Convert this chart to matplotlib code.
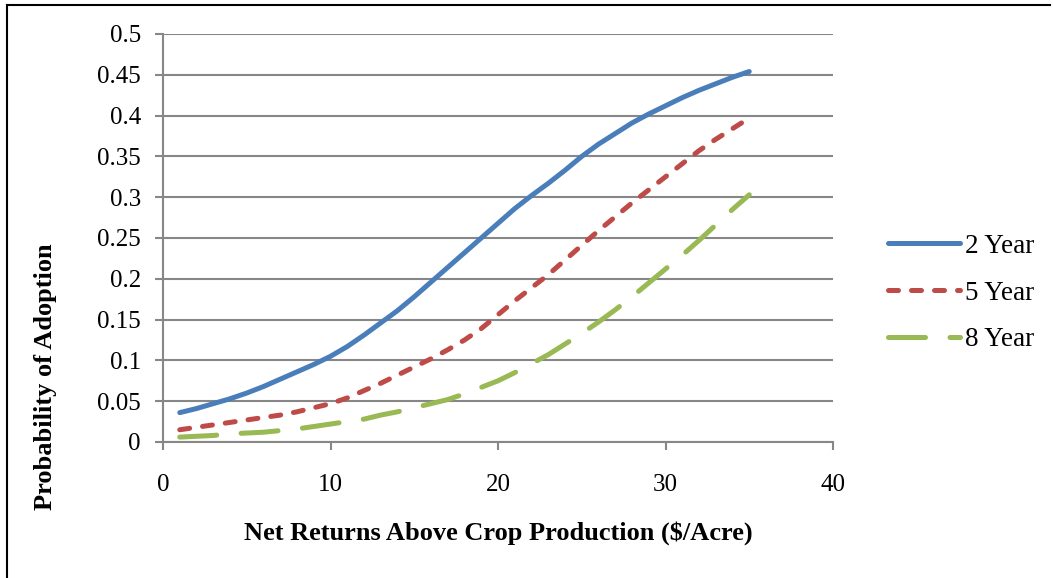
import matplotlib
matplotlib.use("Agg")
import matplotlib.pyplot as plt
from matplotlib.lines import Line2D

# Net returns ($/acre) at which adoption probability is evaluated
returns = list(range(1, 36))

# Probability of adoption by contract length
prob_2yr = [0.036, 0.041, 0.047, 0.053, 0.060, 0.068, 0.077, 0.086, 0.095,
            0.105, 0.117, 0.131, 0.146, 0.161, 0.178, 0.196, 0.214, 0.232,
            0.250, 0.268, 0.286, 0.302, 0.317, 0.333, 0.350, 0.365, 0.378,
            0.391, 0.402, 0.412, 0.422, 0.431, 0.439, 0.447, 0.454]
prob_5yr = [0.015, 0.018, 0.021, 0.024, 0.027, 0.030, 0.033, 0.037, 0.042,
            0.047, 0.054, 0.063, 0.072, 0.082, 0.092, 0.102, 0.113, 0.125,
            0.139, 0.156, 0.173, 0.189, 0.205, 0.223, 0.241, 0.259, 0.276,
            0.293, 0.309, 0.325, 0.341, 0.357, 0.371, 0.384, 0.397]
prob_8yr = [0.006, 0.007, 0.008, 0.010, 0.011, 0.012, 0.014, 0.016, 0.019,
            0.022, 0.025, 0.028, 0.033, 0.037, 0.042, 0.047, 0.052, 0.059,
            0.067, 0.075, 0.085, 0.096, 0.107, 0.120, 0.133, 0.147, 0.162,
            0.178, 0.195, 0.212, 0.229, 0.247, 0.266, 0.285, 0.303]

series_labels = ["2 Year", "5 Year", "8 Year"]
x_ticks = [0, 10, 20, 30, 40]
y_ticks = [0, 0.05, 0.1, 0.15, 0.2, 0.25, 0.3, 0.35, 0.4, 0.45, 0.5]
y_tick_labels = ["0", "0.05", "0.1", "0.15", "0.2", "0.25", "0.3", "0.35",
                 "0.4", "0.45", "0.5"]

plt.rcParams["font.family"] = ["Liberation Serif", "DejaVu Serif"]

W, H = 1053, 578
fig = plt.figure(figsize=(W / 100, H / 100), dpi=100)
ax = fig.add_axes([163 / W, (H - 442) / H, (833 - 163) / W, (442 - 34) / H])

grid_col = "#878787"
lw = 3.6
ax.plot(returns, prob_2yr, color="#4a7ebb", lw=lw, solid_capstyle="round",
        solid_joinstyle="round", label=series_labels[0])
ax.plot(returns, prob_5yr, color="#be4b48", lw=lw, dash_capstyle="round",
        dashes=(2.0, 2.6), label=series_labels[1])
ax.plot(returns, prob_8yr, color="#98b954", lw=lw, dash_capstyle="round",
        dashes=(7.4, 4.9), label=series_labels[2])

ax.set_xlim(0, 40)
ax.set_ylim(0, 0.5)
ax.set_xticks(x_ticks)
ax.set_yticks(y_ticks)
ax.set_yticklabels(y_tick_labels)
ax.yaxis.grid(True, color=grid_col, lw=1.5)
ax.set_axisbelow(True)
for s in ("top", "right"):
    ax.spines[s].set_visible(False)
for s in ("left", "bottom"):
    ax.spines[s].set_color(grid_col)
    ax.spines[s].set_linewidth(1.5)
ax.tick_params(axis="both", direction="out", color=grid_col, width=1.5,
               length=6, labelsize=18)
ax.tick_params(axis="y", pad=10)
ax.tick_params(axis="x", pad=17)

# Axis titles
fig.text(498 / W, (H - 533) / H, "Net Returns Above Crop Production ($/Acre)",
         ha="center", va="center", fontsize=19, fontweight="bold")
fig.text(46 / W, (H - 377) / H, "Probability of Adoption", rotation=90,
         ha="center", va="center", fontsize=19, fontweight="bold")

ax.legend(loc="center left", bbox_to_anchor=(888 / W, (H - 293) / H),
          bbox_transform=fig.transFigure, frameon=False, fontsize=19.5,
          handlelength=2.65, handletextpad=0.19, labelspacing=0.8,
          borderaxespad=0, borderpad=0)

# Frame lines along the top and left edges
fig.add_artist(Line2D([7 / W, 1050 / W], [(H - 5) / H, (H - 5) / H],
                      transform=fig.transFigure, color="black", lw=1.5))
fig.add_artist(Line2D([7 / W, 7 / W], [(H - 5) / H, 0],
                      transform=fig.transFigure, color="black", lw=1.5))

fig.savefig("out.png", dpi=100, facecolor="white")
